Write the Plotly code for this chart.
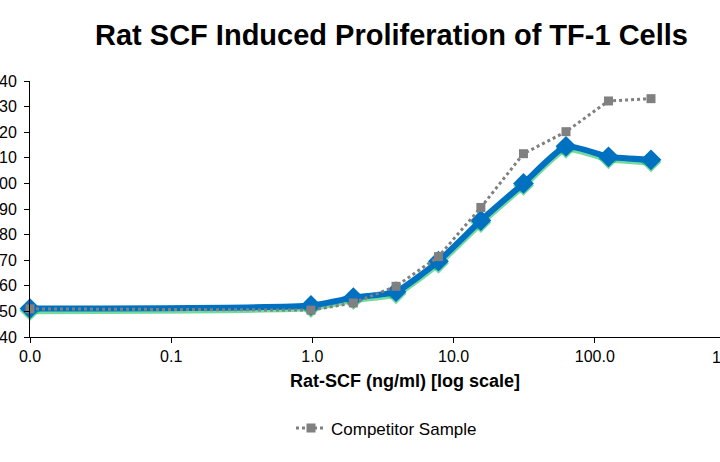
import plotly.graph_objects as go

# Data
concentration = [0.01, 0.977, 1.95, 3.91, 7.81, 15.6, 31.25, 62.5, 125, 250]
rat_scf = [51.1, 52.3, 55.4, 57.7, 69.6, 85.5, 100.0, 114.5, 110.4, 109.2]
competitor = [51.0, 50.5, 53.3, 59.8, 71.4, 90.6, 111.6, 120.2, 132.2, 133.1]
x_tickvals = [0.01, 0.1, 1, 10, 100]
x_ticktext = ["0.0", "0.1", "1.0", "10.0", "100.0"]
y_tickvals = [40, 50, 60, 70, 80, 90, 100, 110, 120, 130, 140]

FONT = "Liberation Sans, Arial, sans-serif"
BLUE = "#0070C0"
GREY = "#808080"
SHADOW_SHIFT = 0.8  # vertical shift of the glow, in y units

W, H = 720, 462
L = 30
TOP = 81
BOTTOM_PX = 336.7
PW = W - L
PH = BOTTOM_PX - TOP
DEC = 141.2


def px_x(p):
    return (p - L) / PW


def px_y(p):
    return (BOTTOM_PX - p) / PH


fig = go.Figure()

# green glow beneath the main series (primary y axis, hidden, shifted range)
fig.add_trace(go.Scatter(
    x=concentration, y=rat_scf, mode="lines+markers", yaxis="y",
    line=dict(color="rgba(0,190,80,0.55)", width=7, shape="spline", smoothing=0.5),
    marker=dict(symbol="diamond", size=16, color="rgba(0,190,80,0.55)"),
    showlegend=False, cliponaxis=False, hoverinfo="skip",
))
fig.add_trace(go.Scatter(
    x=concentration, y=rat_scf, mode="lines+markers", name="Rat SCF", yaxis="y2",
    line=dict(color=BLUE, width=6, shape="spline", smoothing=0.5),
    marker=dict(symbol="diamond", size=16, color=BLUE),
    showlegend=False, cliponaxis=False,
))
fig.add_trace(go.Scatter(
    x=concentration, y=competitor, mode="lines+markers", name="Competitor Sample",
    yaxis="y2",
    line=dict(color=GREY, width=3, dash="dot"),
    marker=dict(symbol="square", size=9, color=GREY),
    cliponaxis=False,
))

x_lo = -2
x_hi = -2 + PW / DEC

fig.update_layout(
    width=W, height=H,
    margin=dict(l=L, r=0, t=TOP, b=H - BOTTOM_PX, autoexpand=False),
    paper_bgcolor="white", plot_bgcolor="white",
    font=dict(family=FONT, size=16, color="black"),
    title=dict(text="<b>Rat SCF Induced Proliferation of TF-1 Cells</b>",
               x=391.5 / W, xanchor="center", xref="container",
               y=1 - 35 / H, yanchor="middle", yref="container",
               font=dict(family=FONT, size=29, color="black")),
    xaxis=dict(type="log", range=[x_lo, x_hi], tickvals=x_tickvals, ticktext=x_ticktext,
               showline=True, linecolor="black", linewidth=1, ticks="outside",
               ticklen=5, tickcolor="black", showgrid=False, zeroline=False,
               tickfont=dict(size=16)),
    yaxis=dict(range=[40 + SHADOW_SHIFT, 140 + SHADOW_SHIFT], visible=False,
               showgrid=False, zeroline=False),
    yaxis2=dict(range=[40, 140], overlaying="y", side="left", tickvals=y_tickvals,
                showline=True, linecolor="black", linewidth=1, ticks="outside",
                ticklen=5, tickcolor="black", showgrid=False, zeroline=False,
                tickfont=dict(size=16), ticklabelstandoff=4, automargin=False),
    showlegend=True,
    legend=dict(orientation="h", x=px_x(291), xanchor="left",
                y=px_y(428), yanchor="middle",
                font=dict(family=FONT, size=17, color="black"),
                bgcolor="rgba(0,0,0,0)"),
    annotations=[
        dict(text="<b>Rat-SCF (ng/ml) [log scale]</b>", xref="paper", yref="paper",
             x=px_x(404.5), y=px_y(381), xanchor="center",
             yanchor="middle", showarrow=False,
             font=dict(family=FONT, size=18, color="black")),
        dict(text="1000.0", xref="paper", yref="paper", x=px_x(736),
             y=px_y(357), xanchor="center", yanchor="middle",
             showarrow=False, font=dict(family=FONT, size=16, color="black")),
    ],
)

fig.write_html(
    "out.html",
    config={"displayModeBar": False},
    post_script="document.body.style.margin='0';document.body.style.overflow='hidden';",
)
